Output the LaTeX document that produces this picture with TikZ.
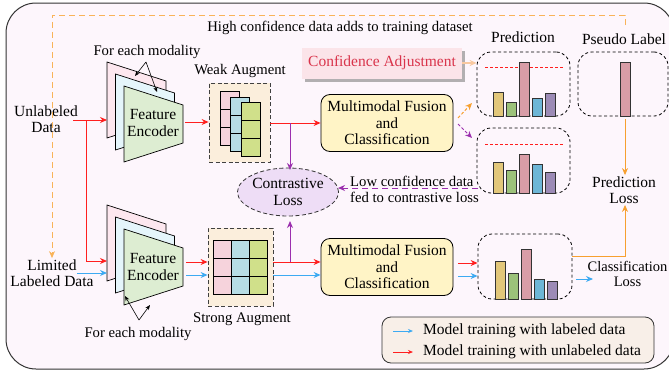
\documentclass[tikz,border=0pt]{standalone}
\usepackage{fontspec}
\setmainfont{Liberation Serif}
\usetikzlibrary{arrows.meta,shapes.geometric,shadows}
\definecolor{framebg}{HTML}{FDF6FC}
\definecolor{framebd}{HTML}{333333}
\definecolor{arrred}{HTML}{FF1F1F}
\definecolor{arrblue}{HTML}{3DAAF2}
\definecolor{arrpurp}{HTML}{9B2FAE}
\definecolor{arrorange}{HTML}{F7A030}
\definecolor{arrpeach}{HTML}{F9C9A0}
\definecolor{augbg}{HTML}{FBEEDC}
\definecolor{cellpink}{HTML}{F6D3DC}
\definecolor{cellblue}{HTML}{B7DDE5}
\definecolor{cellgreen}{HTML}{D0E08A}
\definecolor{encpink}{HTML}{FDE7EF}
\definecolor{encblue}{HTML}{E5F5FB}
\definecolor{encgreen}{HTML}{DDEDD2}
\definecolor{fusbg}{HTML}{FFF4C6}
\definecolor{contrbg}{HTML}{EEDDF6}
\definecolor{confbg}{HTML}{FBE4E9}
\definecolor{conftext}{HTML}{D9344B}
\definecolor{legbg}{HTML}{F8EFE8}
\definecolor{baryellow}{HTML}{E2C77A}
\definecolor{bargreen}{HTML}{9CC27A}
\definecolor{barpink}{HTML}{D99DA7}
\definecolor{barblue}{HTML}{6DB6D6}
\definecolor{barpurple}{HTML}{9C8BB6}
\newcommand\mysheet[3]{\filldraw[sheet, fill=#3] (#1,#2) -- ++(59,19) -- ++(0,38) -- ++(-59,19) -- cycle;}
\newcommand\mycol[4]{\foreach \k in {0,1,2}{\filldraw[cell, fill=#4] (#1,{#2+18*\k}) rectangle ++(#3,18);}}
\newcommand\mybars[7]{\foreach \h/\c [count=\i from 0] in {#3/baryellow,#4/bargreen,#5/barpink,#6/barblue,#7/barpurple}{\filldraw[bar, fill=\c] ({#1+13*\i},#2) rectangle ++(10,-\h);}}
\tikzset{
  txt/.style={font=\fontsize{15.5}{16.5}\selectfont, align=center, inner sep=1pt},
  lbl/.style={font=\fontsize{14.7}{16}\selectfont, align=center, inner sep=1pt},
  sheet/.style={draw=black, line width=0.7pt},
  cell/.style={draw=black, line width=0.8pt},
  bar/.style={draw=black!80, line width=0.9pt},
  augbox/.style={draw=black!75, dashed, dash pattern=on 4pt off 2.5pt, line width=0.8pt, fill=augbg, inner sep=0pt},
  fusion/.style={txt, draw=black, line width=0.8pt, fill=fusbg, rounded corners=9pt, minimum width=132pt, minimum height=57pt},
  predbox/.style={draw=black, dashed, dash pattern=on 3pt off 2.5pt, line width=0.8pt, rounded corners=14pt, inner sep=0pt},
  tip/.style={-{Stealth[length=7pt,width=6pt]}},
  redarr/.style={draw=arrred, line width=1pt, tip},
  bluearr/.style={draw=arrblue, line width=1pt, tip},
  purparr/.style={draw=arrpurp, line width=1pt, tip},
  orarr/.style={draw=arrorange, line width=1pt, tip},
  thinarr/.style={draw=black, line width=0.6pt, -{Stealth[length=5pt,width=4pt]}},
  thresh/.style={draw=arrred, dashed, dash pattern=on 3pt off 2pt, line width=0.9pt},
}
\begin{document}
\begin{tikzpicture}[x=1pt,y=-1pt]
\useasboundingbox (0,0) rectangle (669,372);
\clip (0,0) rectangle (669,372);
% frame
\filldraw[fill=framebg, draw=framebd, line width=1pt, rounded corners=30pt] (6,3) rectangle (674,369);

% title of feedback
\node[lbl] (hightxt) at (340,28) {High confidence data adds to training dataset};

% inputs
\node[txt] (unl) at (46,119) {Unlabeled\\Data};
\node[txt] (lim) at (52,273) {Limited\\Labeled Data};

% encoders
\mysheet{107}{62}{encpink}
\mysheet{115.5}{74}{encblue}
\mysheet{124}{86}{encgreen}
\node[txt] (encA) at (153,123) {Feature\\Encoder};
\mysheet{107}{205}{encpink}
\mysheet{115.5}{217}{encblue}
\mysheet{124}{229}{encgreen}
\node[txt] (encB) at (153,267) {Feature\\Encoder};

\node[lbl] (modA) at (147,52) {For each modality};
\coordinate (modAo) at (146,62);
\draw[thinarr] (modAo) -- (135,76);
\draw[thinarr] (modAo) -- (157,92);
\node[lbl] (modB) at (138,334) {For each modality};
\coordinate (modBo) at (139,320);
\draw[thinarr] (modBo) -- (125,296);
\draw[thinarr] (modBo) -- (150,305);

% augment boxes
\node[augbox, minimum width=61pt, minimum height=79pt] (weak) at (239.5,122.5) {};
\mycol{220}{91}{19}{cellpink}
\mycol{230}{97}{19}{cellblue}
\mycol{241}{102}{19}{cellgreen}
\node[lbl] (weaktxt) at (240,71) {Weak Augment};
\node[augbox, minimum width=65pt, minimum height=78pt] (strong) at (240.5,267) {};
\mycol{213}{240}{18}{cellpink}
\mycol{231}{240}{18}{cellblue}
\mycol{249}{240}{18}{cellgreen}
\node[lbl] (strongtxt) at (242,319) {Strong Augment};

% fusion
\node[fusion] (fusA) at (387,123) {Multimodal Fusion\\and\\Classification};
\node[fusion] (fusB) at (387,267) {Multimodal Fusion\\and\\Classification};

% contrastive
\node[txt, ellipse, draw=black!80, dashed, dash pattern=on 4pt off 2.5pt, line width=0.8pt, fill=contrbg, minimum width=100pt, minimum height=48pt, inner sep=0pt] (contr) at (288,192) {Contrastive\\Loss};

% confidence adjustment
\node[txt, fill=confbg, text=conftext, minimum width=160pt, minimum height=31pt, drop shadow={shadow xshift=3pt, shadow yshift=-3pt, opacity=0.6}] (conf) at (382,63) {Confidence Adjustment};

% prediction boxes
\node[predbox, minimum width=93pt, minimum height=64pt] (p1) at (523.5,84) {};
\node[predbox, minimum width=93pt, minimum height=65pt] (p2) at (523.5,160.5) {};
\node[predbox, minimum width=94pt, minimum height=65pt] (p3) at (525,266.5) {};
\node[predbox, minimum width=90pt, minimum height=64pt] (pl) at (623,84) {};
\node[txt] (predtxt) at (523,37) {Prediction};
\node[txt] (pltxt) at (624,39) {Pseudo Label};
\draw[thresh] (485,67) -- (563,67);
\draw[thresh] (485,144) -- (563,144);
\mybars{493}{116}{24}{14}{54}{18}{23}
\mybars{493}{193}{31}{23}{39}{29}{21}
\mybars{495}{299}{38}{26}{50}{20}{18}
\filldraw[bar, fill=barpink] (620,116) rectangle (630,62);

% losses
\node[txt] (ploss) at (624,190) {Prediction\\Loss};
\node[lbl, font=\fontsize{14.5}{15.5}\selectfont] (closs) at (627.5,274) {Classification\\Loss};

% feedback dashed line
\coordinate (fb0) at (625,25);
\draw[draw=arrorange!80, line width=1pt, dashed, dash pattern=on 6pt off 4pt, tip] (fb0) -- ++(0,-10) -| (lim.north);

% red/blue input arrows
\coordinate (u0) at (73,120);
\coordinate (u1) at (107,120);
\coordinate (ub) at (86,120);
\coordinate (u2) at (107,261);
\coordinate (l0) at (77,273);
\coordinate (l1) at (107,273);
\draw[redarr] (u0) -- (u1);
\draw[redarr] (ub) |- (u2);
\draw[bluearr] (l0) -- (l1);

% encoder to augment
\coordinate (eA) at (185,122);
\draw[redarr] (eA) -- (weak.west |- eA);
\coordinate (eBr) at (186,262);
\coordinate (eBb) at (186,275);
\draw[redarr] (eBr) -- (strong.west |- eBr);
\draw[bluearr] (eBb) -- (strong.west |- eBb);

% augment to fusion
\coordinate (wA) at (270,123);
\draw[redarr] (wA) -- (fusA.west |- wA);
\coordinate (wAb) at (290,123);
\coordinate (cTop) at (290,170);
\draw[purparr] (wAb) -- (cTop);
\coordinate (sr) at (273,262);
\coordinate (sb) at (273,275);
\draw[redarr] (sr) -- (fusB.west |- sr);
\draw[bluearr] (sb) -- (fusB.west |- sb);
\coordinate (sBb) at (290,262);
\coordinate (cBot) at (290,221);
\draw[purparr] (sBb) -- (cBot);

% fusion to predictions
\coordinate (fo1) at (458,118);
\coordinate (fo2) at (458,124);
\draw[orarr, dashed, dash pattern=on 3pt off 2pt] (fo1) -- (472,103);
\draw[purparr, dashed, dash pattern=on 3pt off 2pt] (fo2) -- (472,138);
\draw[draw=arrpeach, line width=1.2pt, tip] (conf.east) -- (p1.west |- conf.east);

% low confidence
\coordinate (lc0) at (478,188);
\coordinate (lc1) at (338,188);
\draw[purparr, dashed, dash pattern=on 6pt off 4pt] (lc0) -- (lc1);
\node[lbl, anchor=base west, inner sep=0pt] (lowtxt) at (350,186.5) {Low confidence data};
\node[lbl, anchor=base west, inner sep=0pt] (fedtxt) at (350,202) {fed to contrastive loss};

% pseudo label to prediction loss
\coordinate (pl0) at (625,119);
\draw[orarr] (pl0) -- (ploss.north -| pl0);
\coordinate (p3o) at (572,256);
\draw[orarr] (p3o) -| (ploss.south -| pl0);

% bottom fusion to p3
\coordinate (fbr) at (458,263);
\coordinate (fbb) at (458,276);
\draw[redarr] (fbr) -- (p3.west |- fbr);
\draw[bluearr] (fbb) -- (p3.west |- fbb);
\coordinate (p3b) at (576,279);
\draw[bluearr] (p3b) -- (593,279);

% legend
\node[draw=black!80, line width=0.8pt, fill=legbg, rounded corners=9pt, minimum width=272pt, minimum height=46pt] (leg) at (518,340) {};
\coordinate (lg1) at (393,331);
\coordinate (lg2) at (393,352);
\draw[draw=arrblue, line width=0.8pt, -{Stealth[length=5pt,width=4pt]}] (lg1) -- ++(20,0);
\draw[draw=arrred, line width=0.8pt, -{Stealth[length=5pt,width=4pt]}] (lg2) -- ++(20,0);
\node[txt, anchor=west, inner sep=0pt] (lgt1) at (423,331) {Model training with labeled data};
\node[txt, anchor=west, inner sep=0pt] (lgt2) at (423,352) {Model training with unlabeled data};
\end{tikzpicture}
\end{document}
